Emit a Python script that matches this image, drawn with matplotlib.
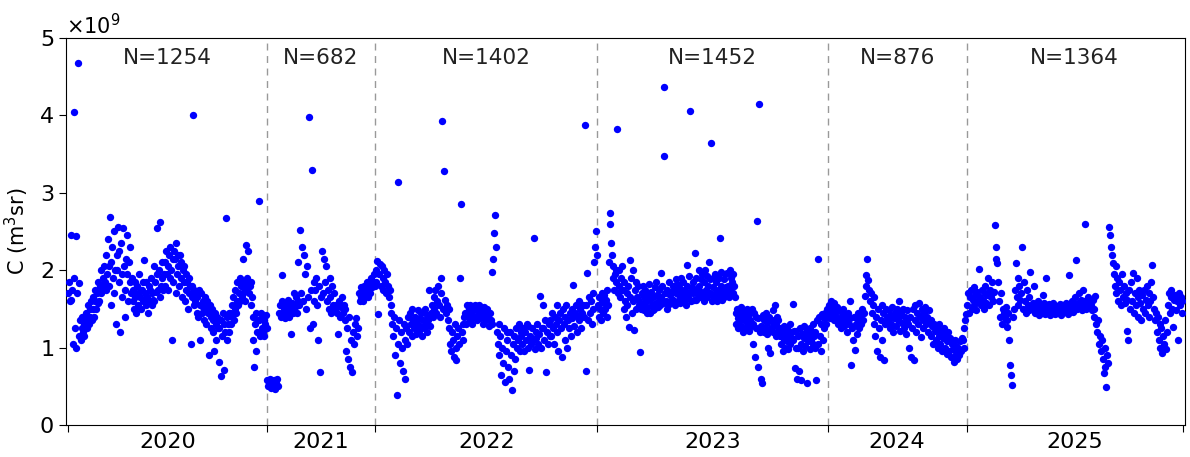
import numpy as np
import matplotlib
matplotlib.use("Agg")
import matplotlib.pyplot as plt

# Yearly observation counts and calibration constant C (in units of 1e9 m^3 sr),
# listed in observation order within each year.
years = ["2020", "2021", "2022", "2023", "2024", "2025"]
counts = [1254, 682, 1402, 1452, 876, 1364]

c_2020 = [
    1.70, 1.85, 1.60, 2.45, 1.62, 1.75, 1.05, 1.90, 4.04, 1.25, 2.44, 1.00, 1.70, 4.68, 1.15, 1.83, 1.35, 1.10,
    1.25, 1.40, 1.20, 1.30, 1.15, 1.35,
    1.45, 1.25, 1.35, 1.55, 1.30, 1.50, 1.40, 1.60, 1.35, 1.65, 1.50, 1.40, 1.60, 1.75, 1.50, 1.70, 1.58, 1.85,
    1.60, 1.80, 1.70, 2.00, 1.75, 1.90, 1.80, 2.05, 1.85,
    1.75, 2.20, 1.95, 2.40, 1.80, 2.05, 2.69, 2.10, 1.55, 2.30, 1.90, 2.50, 1.70, 2.00, 1.30, 2.20, 2.00, 2.56,
    1.85, 2.25, 1.20, 2.35, 1.65, 1.95, 2.55, 2.05, 1.40, 1.75, 2.15, 1.95, 2.45, 1.60, 2.10, 1.85, 2.30, 1.70,
    1.90, 1.60, 1.75, 1.50, 1.85, 1.65, 1.45, 1.80, 1.70, 1.55, 1.95, 1.65, 1.75, 1.50, 1.75, 1.60, 1.85, 2.13,
    1.70, 1.85, 1.55, 1.65, 1.45, 1.80, 1.60, 1.75, 1.90, 1.55, 1.70, 1.62, 2.05, 1.60, 1.85, 1.72, 1.95, 2.55,
    1.75, 2.00, 1.65, 2.62, 1.80, 1.90, 2.10, 1.75, 1.95,
    2.10, 1.80, 2.25, 1.95, 2.05, 1.75, 2.20, 1.90, 2.30, 2.00, 1.10, 2.15, 1.85, 2.25, 2.15, 1.70, 2.35, 1.95,
    2.05, 2.20, 1.80, 2.20, 1.90, 2.10, 1.65, 2.00, 1.85, 2.05, 1.60, 1.95, 1.75, 1.85, 1.50, 1.90, 1.70, 1.80,
    1.05, 1.80, 1.65, 4.00, 1.55, 1.75, 1.60, 1.70, 1.45,
    1.65, 1.40, 1.75, 1.10, 1.55, 1.70, 1.45, 1.60, 1.52, 1.35, 1.65, 1.50, 1.30, 1.60, 1.45, 1.55, 0.90, 1.55,
    1.25, 1.40, 1.50, 1.20, 1.35, 0.95, 1.45, 1.30, 1.10, 1.40, 1.25, 0.82, 1.25, 1.35, 0.63, 1.35, 1.15, 1.45,
    0.71, 1.30, 1.20, 2.67, 1.40, 1.10, 1.30, 1.45,
    1.20, 1.45, 1.30, 1.55, 1.40, 1.65, 1.35, 1.50, 1.75, 1.45, 1.60, 1.85, 1.55, 1.70, 1.90, 1.60, 1.80, 1.65,
    1.70, 2.15, 1.85, 1.75, 1.60, 2.33, 1.90, 1.80, 2.25, 1.70, 1.80, 1.55, 1.85, 1.65,
    1.40, 1.10, 0.75, 1.30, 0.95, 1.45, 1.20, 1.35, 2.90, 1.35, 1.15, 1.45, 1.25, 1.40, 1.20, 1.35, 1.15, 1.30,
    1.42, 1.25,
]

c_2021 = [
    0.58, 0.50, 0.55, 0.60, 0.48, 0.56, 0.52, 0.58, 0.47, 0.54, 0.60, 0.51,
    1.45, 1.55, 1.40, 1.60, 1.94, 1.45, 1.50, 1.38, 1.55, 1.45, 1.62, 1.40, 1.50, 1.18, 1.58, 1.45, 1.70, 1.52,
    1.65, 1.45, 1.60,
    2.10, 1.55, 2.52, 1.70, 2.30, 1.60, 2.20, 1.95, 1.50, 2.05, 1.65, 3.98, 1.25, 1.75, 3.29, 1.30,
    1.85, 1.60, 1.75, 1.90, 1.55, 1.10, 1.80, 0.69, 1.65, 2.25, 1.70, 2.15, 1.85, 2.05, 1.60, 1.75, 1.50, 1.90,
    1.65, 1.45, 1.80, 1.55, 1.70, 1.50,
    1.55, 1.45, 1.18, 1.60, 1.40, 1.52, 1.65, 1.45, 1.55, 1.35, 1.50, 0.95, 1.25, 0.85, 1.40, 0.75, 1.10, 0.68,
    1.20, 1.05, 1.30, 1.38, 1.15, 1.25,
    1.70, 1.60, 1.78, 1.65, 1.72, 1.60, 1.80, 1.68, 1.75, 1.85, 1.65, 1.80, 1.70, 1.90, 1.78, 1.85, 1.95, 1.80,
]

c_2022 = [
    2.00, 1.85, 2.12, 1.44, 1.95, 2.08, 1.80, 2.05, 1.90, 1.75, 2.00, 1.85, 1.70, 1.95, 1.80, 1.65, 1.75, 1.55,
    1.45, 1.30, 1.15, 1.40, 0.90, 1.25, 0.39, 1.05, 3.14, 1.35, 0.80, 1.20, 1.00, 0.70, 1.30, 1.10, 0.60, 1.25,
    1.05, 1.40,
    1.20, 1.45, 1.30, 1.15, 1.50, 1.35, 1.25, 1.40, 1.18, 1.32, 1.48, 1.22, 1.38, 1.28, 1.45, 1.15, 1.35, 1.25,
    1.50, 1.30, 1.20, 1.42, 1.35, 1.74, 1.28, 1.45, 1.55, 1.40,
    1.65, 1.50, 1.75, 1.45, 1.60, 1.79, 1.55, 1.40, 1.70, 1.90, 3.93, 1.50, 3.28, 1.62, 1.45, 1.55, 1.35, 1.50,
    1.25, 1.05, 0.95, 1.20, 1.10, 0.88, 1.30, 1.00, 0.84, 1.15, 1.25, 1.05, 1.90, 2.85, 1.20, 1.10, 1.30, 1.40,
    1.45, 1.30, 1.55, 1.40, 1.50, 1.35, 1.55, 1.45, 1.30, 1.52, 1.40, 1.55, 1.48, 1.35, 1.50, 1.42, 1.55, 1.38,
    1.50, 1.45, 1.30, 1.52, 1.40, 1.48, 1.35, 1.50, 1.42, 1.28, 1.45, 1.35, 1.30,
    1.98, 2.15, 2.48, 2.71, 2.30, 1.20, 1.05, 0.90, 1.30, 1.15, 0.65, 1.00, 0.80, 1.25, 0.55, 0.95, 1.10, 1.20,
    0.75, 0.60, 1.20, 0.90, 0.45, 1.05, 1.15, 0.70, 0.85, 1.25, 1.00, 1.10, 1.30, 0.95, 1.20,
    1.15, 1.05, 1.25, 0.95, 1.20, 1.10, 1.30, 1.00, 1.28, 0.71, 1.15, 1.05, 1.25, 1.10, 2.41, 0.98, 1.20, 1.12,
    1.30, 1.05, 1.18, 1.66, 1.00, 1.25, 1.55, 1.25, 1.10, 1.35, 0.69, 1.20, 1.05, 1.30, 1.15,
    1.35, 1.15, 1.45, 1.25, 1.05, 1.40, 1.30, 1.55, 1.20, 0.95, 1.35, 1.45, 1.25, 0.88, 1.50, 1.30, 1.10, 1.40,
    1.55, 1.00, 1.35, 1.25, 1.45, 1.15, 1.50, 1.38, 1.81, 1.28, 1.45, 1.55, 1.20, 1.40, 1.60, 1.35, 1.50, 1.25,
    1.45, 1.55,
    1.40, 3.88, 0.70, 1.55, 1.97, 1.35, 1.65, 1.45, 1.60, 1.30, 1.50, 1.70, 2.10, 2.30, 2.50, 2.20,
]

c_2023 = [
    1.55, 1.40, 1.65, 1.50, 1.36, 1.60, 1.70, 1.45, 1.58, 1.68, 1.50, 1.62, 1.40, 1.75, 1.55, 2.10, 2.60, 2.74,
    2.35, 2.20, 1.90, 2.05, 1.75, 1.95, 1.85, 2.00, 3.83, 1.70, 2.00, 1.80, 1.65, 1.90, 1.75, 2.05,
    1.75, 1.50, 1.85, 1.60, 1.40, 1.70, 1.55, 1.80, 1.27, 2.13, 1.65, 1.90, 1.45, 2.00, 1.60, 1.23, 1.75, 1.85,
    1.50, 1.65, 1.80, 1.55,
    1.60, 0.94, 1.50, 1.70, 1.55, 1.80, 1.65, 1.48, 1.75, 1.60, 1.45, 1.52, 1.68, 1.82, 1.45, 1.62, 1.72, 1.55,
    1.48, 1.65, 1.50, 1.78, 1.58, 1.85, 1.68, 1.52, 1.62, 1.75, 1.55, 1.96, 1.65, 1.80, 1.58, 4.37, 3.48, 1.70,
    1.60, 1.50, 1.75, 1.55, 1.85, 1.68, 1.58, 1.72, 1.62, 1.80,
    1.62, 1.75, 1.55, 1.88, 1.70, 1.82, 1.60, 1.68, 1.78, 1.58, 1.90, 1.72, 1.65, 1.85, 1.60, 1.75, 1.68, 1.55,
    1.80, 2.07, 1.65, 1.92, 1.72, 4.06, 1.60, 1.78, 1.70, 1.85, 1.62, 2.22, 1.90, 1.62, 1.75, 1.68, 2.00, 1.80,
    1.65, 1.88, 1.72, 1.95,
    1.70, 1.85, 1.60, 2.00, 1.75, 1.92, 1.65, 1.80, 2.11, 1.70, 1.88, 3.64, 1.60, 1.78, 1.90, 1.65, 1.95, 1.72,
    1.85, 1.60, 1.75, 1.90, 1.68, 2.41, 1.98, 1.80, 1.62, 1.72, 1.88, 1.65, 1.95, 1.78, 1.70, 1.96, 1.80, 1.65,
    2.00, 1.75, 1.90, 1.85, 1.70, 1.95, 1.80, 1.65,
    1.45, 1.30, 1.50, 1.38, 1.25, 1.45, 1.35, 1.52, 1.28, 1.40, 1.20, 1.48, 1.35, 1.42, 1.25, 1.50, 1.32, 1.40,
    1.22, 1.45, 1.35, 1.28, 1.50, 1.05, 1.30, 1.45, 0.88, 1.25, 1.40, 2.64, 0.75, 1.38, 4.15, 1.20, 0.60, 1.28,
    0.54, 1.42, 1.20, 1.35, 1.25, 1.45, 1.18, 1.32, 1.00, 1.40, 1.22, 0.93, 1.25, 1.35, 1.20, 1.48, 1.30, 1.55,
    1.30, 1.15, 1.40, 1.25, 1.35, 1.20,
    1.15, 1.25, 1.05, 1.20, 0.95, 1.10, 1.28, 1.00, 1.18, 1.08, 1.25, 0.98, 1.15, 1.30, 1.05, 1.20, 1.12, 1.56,
    1.10, 1.22, 0.73, 1.22, 1.00, 0.60, 1.00, 1.15, 0.70, 1.25, 1.05, 0.58, 1.18, 0.95, 1.12, 1.28, 1.02, 1.20,
    0.54, 1.20, 1.08, 1.15, 0.98, 1.25, 1.10, 1.20, 1.05, 1.30, 1.15, 1.00,
    1.20, 0.58, 1.35, 2.15, 1.05, 1.40, 1.15, 0.95, 1.30, 1.44, 1.10, 1.38, 1.25, 1.45, 1.30, 1.50, 1.40,
]

c_2024 = [
    1.45, 1.55, 1.38, 1.60, 1.42, 1.50, 1.35, 1.58, 1.45, 1.40, 1.52, 1.30, 1.48, 1.38, 1.25, 1.45, 1.35, 1.50,
    1.28, 1.42, 1.35, 1.20, 1.45, 1.30, 1.60, 1.38, 0.77, 1.25, 1.10, 1.40, 0.97, 1.30, 1.18, 1.45, 1.35, 1.25,
    1.40, 1.30, 1.50, 1.35, 1.45,
    1.66, 1.80, 1.94, 2.14, 1.87, 1.75, 1.60, 1.70, 1.45, 1.55, 1.30, 1.65, 1.15, 1.40, 0.95, 1.50, 1.25, 0.88,
    1.35, 1.55, 1.10, 1.45, 0.84, 1.30, 1.50, 1.40,
    1.35, 1.48, 1.25, 1.42, 1.30, 1.52, 1.20, 1.38, 1.45, 1.28, 1.50, 1.35, 1.60, 1.40, 1.22, 1.45, 1.32, 1.50,
    1.25, 1.40, 1.18, 1.35, 1.48, 1.30,
    1.00, 1.40, 0.88, 1.25, 1.50, 0.84, 1.35, 1.55, 1.20, 1.45, 1.30, 1.57, 1.40, 1.14, 1.50, 1.35, 1.25, 1.45,
    1.52, 1.30, 1.40, 1.20, 1.48, 1.35,
    1.35, 1.15, 1.28, 1.05, 1.30, 1.22, 1.10, 1.25, 1.00, 1.15, 1.30, 1.05, 1.20, 0.95, 1.12, 1.25, 1.00, 1.18,
    0.92, 1.08, 1.20, 0.95, 1.12, 0.88, 1.05, 0.98, 0.82, 1.10, 0.92, 1.02, 0.85, 1.00, 0.90, 1.08, 0.95, 1.12,
    1.10, 1.25, 1.00, 1.35, 1.44,
]

c_2025 = [
    1.55, 1.70, 1.45, 1.65, 1.75, 1.50, 1.62, 1.78, 1.55, 1.68, 1.48, 1.72, 1.60, 2.02, 1.65, 1.55, 1.75, 1.62,
    1.50, 1.70, 1.80, 1.58, 1.68, 1.90, 1.55, 1.75, 1.65, 1.85, 1.60, 1.72,
    2.58, 2.30, 2.15, 2.09, 1.85, 1.60, 1.40, 1.70, 1.31, 1.50, 1.45, 1.38, 1.52, 1.35, 1.27, 1.45, 1.10, 0.77,
    0.65, 0.52, 1.40, 1.50,
    1.75, 2.09, 1.65, 1.90, 1.55, 1.80, 1.62, 1.70, 2.30, 1.50, 1.85, 1.60, 1.45, 1.75, 1.55, 1.48, 1.65, 1.98,
    1.52,
    1.50, 1.58, 1.79, 1.45, 1.55, 1.48, 1.60, 1.42, 1.52, 1.56, 1.45, 1.50, 1.68, 1.58, 1.44, 1.90, 1.52, 1.48,
    1.56, 1.42, 1.50, 1.55, 1.46, 1.58, 1.50, 1.44, 1.54, 1.48, 1.52, 1.45, 1.56, 1.50, 1.42, 1.55, 1.48, 1.52,
    1.46, 1.58, 1.50, 1.44, 1.94, 1.55, 1.48, 1.52, 1.60, 1.46, 1.56, 1.65, 2.13, 1.50, 1.58, 1.70, 1.52, 1.62,
    1.48, 1.74, 1.55, 1.60, 2.60, 1.50, 1.58, 1.65, 1.52, 1.60, 1.55, 1.48, 1.62, 1.50,
    1.40, 1.66, 1.30, 1.20, 1.35, 1.05, 1.15, 0.95, 1.10, 0.85, 0.67, 1.00, 0.75, 0.49, 0.90, 0.80,
    2.56, 2.45, 2.30, 2.20, 2.09, 1.95, 1.80, 2.05, 1.70, 1.90, 1.60, 1.85, 1.75, 1.55, 1.95, 1.65, 1.80, 1.58,
    1.70, 1.62, 1.22, 1.10,
    1.75, 1.50, 1.85, 1.60, 1.96, 1.45, 1.70, 1.55, 1.90, 1.65, 1.40, 1.75, 1.58, 1.36, 1.68, 1.50, 1.74, 1.45,
    1.62, 1.80, 1.55, 1.40, 1.70, 1.60, 1.85, 2.07, 1.65,
    1.50, 1.35, 1.45, 1.20, 1.40, 1.10, 1.30, 1.00, 1.25, 0.93, 1.15, 1.05, 1.35, 0.98, 1.20,
    1.55, 1.70, 1.45, 1.65, 1.74, 1.50, 1.27, 1.62, 1.68, 1.48, 1.60, 1.10, 1.70, 1.55, 1.65, 1.45, 1.60,
]

yearly_c = [c_2020, c_2021, c_2022, c_2023, c_2024, c_2025]

# Boundaries of each year along the cumulative observation index
edges = np.concatenate([[0], np.cumsum(counts)])

fig = plt.figure(figsize=(11.9, 4.57), dpi=100)
ax = fig.add_axes([0.0555, 0.070, 0.9403, 0.847])

for i, vals in enumerate(yearly_c):
    vals = np.asarray(vals) * 1e9
    n = len(vals)
    x = edges[i] + (np.arange(n) + 0.5) * counts[i] / n
    ax.scatter(x, vals, s=28, color="blue", linewidths=0, zorder=3)

# Year separators
for e in edges[1:-1]:
    ax.axvline(e, color="#999999", linestyle=(0, (5, 4)), linewidth=1.0, zorder=1)

# Observation counts per year
for i, n in enumerate(counts):
    mid = 0.5 * (edges[i] + edges[i + 1])
    ax.text(mid, 0.948, f"N={n}", transform=ax.get_xaxis_transform(),
            ha="center", va="center", fontsize=15.5, color="#222222")

ax.set_xlim(-13, 7043)
ax.set_ylim(0, 5e9)
ax.set_yticks(np.arange(0, 6) * 1e9)
ax.ticklabel_format(axis="y", style="sci", scilimits=(0, 0), useMathText=True)
ax.yaxis.get_offset_text().set_fontsize(15)

ax.set_xticks(edges)
ax.set_xticklabels([])
ax.set_xticks(0.5 * (edges[:-1] + edges[1:]), minor=True)
ax.set_xticklabels(years, minor=True)
ax.tick_params(axis="x", which="minor", length=0, labelsize=16, pad=5)
ax.tick_params(axis="x", which="major", length=5)
ax.tick_params(axis="y", labelsize=16, length=5)

ax.set_ylabel("C (m$^3$sr)", fontsize=15, labelpad=6)

fig.savefig("out.png", dpi=100)
